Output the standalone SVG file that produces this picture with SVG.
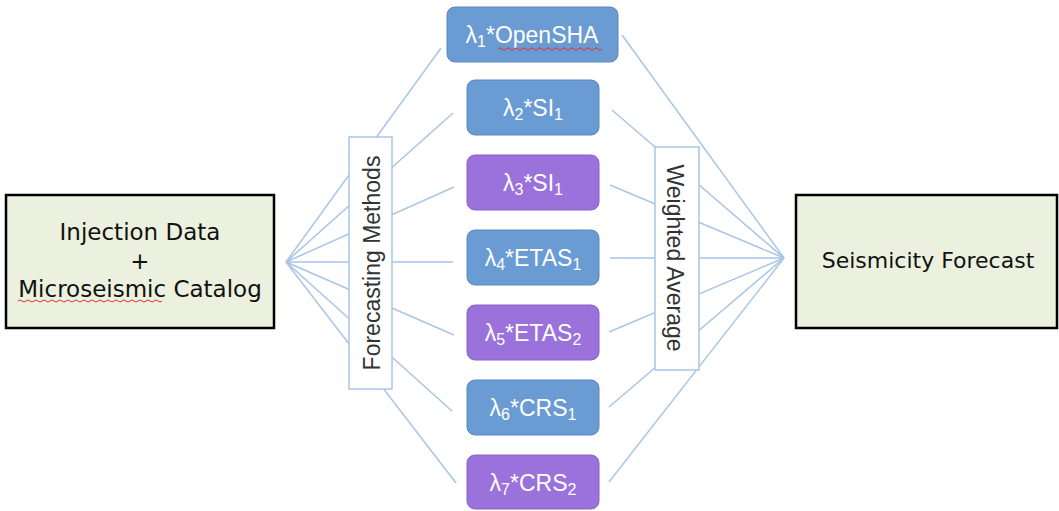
<svg xmlns="http://www.w3.org/2000/svg" width="1059" height="511" viewBox="0 0 1059 511">
<style>
.io{fill:#ebf1de;stroke:#000;stroke-width:2.5}
.iot{font-family:"DejaVu Sans",sans-serif;font-size:23px;fill:#111;text-anchor:middle}
.blue{fill:#6a9bd2;stroke:#5a88c0;stroke-width:1}
.purple{fill:#9b72db;stroke:#8663c9;stroke-width:1}
.mt{font-family:"Liberation Sans",Arial,sans-serif;font-size:23px;fill:#fff;text-anchor:middle}
.sub{font-size:16px}
.lab{fill:#fff;stroke:#a9c5e8;stroke-width:1.5}
.labt{font-family:"Liberation Sans",Arial,sans-serif;font-size:23px;fill:#333;text-anchor:middle}
.conn line{stroke:#a9c5e8;stroke-width:1.5}
.sq{fill:none;stroke:#e03030;stroke-width:1}
</style>
<g id="connectors" class="conn">
<line x1="286" y1="262" x2="441" y2="48"/>
<line x1="286" y1="262" x2="453" y2="113"/>
<line x1="286" y1="262" x2="454" y2="187"/>
<line x1="286" y1="262" x2="453" y2="262"/>
<line x1="286" y1="262" x2="454" y2="335"/>
<line x1="286" y1="262" x2="452" y2="411"/>
<line x1="286" y1="262" x2="456" y2="483"/>
<line x1="622" y1="35" x2="784" y2="258"/>
<line x1="612" y1="110" x2="784" y2="258"/>
<line x1="610" y1="185" x2="784" y2="258"/>
<line x1="610" y1="258" x2="784" y2="258"/>
<line x1="609" y1="332" x2="784" y2="258"/>
<line x1="609" y1="407" x2="784" y2="258"/>
<line x1="609" y1="482" x2="784" y2="258"/>
</g>
<g id="input">
<rect class="io" x="6" y="195" width="268" height="133"/>
<text class="iot" x="140" y="240">Injection Data</text>
<text class="iot" x="140" y="269">+</text>
<text class="iot" x="140" y="297">Microseismic Catalog</text>
<path class="sq" d="M18 301 q2 -2 4 0 t4 0 t4 0 t4 0 t4 0 t4 0 t4 0 t4 0 t4 0 t4 0 t4 0 t4 0 t4 0 t4 0 t4 0 t4 0 t4 0 t4 0 t4 0 t4 0 t4 0 t4 0 t4 0 t4 0 t4 0 t4 0 t4 0 t4 0 t4 0 t4 0 t4 0 t4 0 t4 0 t4 0 t4 0 t4 0"/>
</g>
<g id="output">
<rect class="io" x="796" y="195" width="261" height="133"/>
<text class="iot" x="928" y="268" style="font-size:22px">Seismicity Forecast</text>
</g>
<g id="forecasting-methods">
<rect class="lab" x="349" y="137" width="43" height="252"/>
<text class="labt" transform="translate(380,263) rotate(-90)">Forecasting Methods</text>
</g>
<g id="weighted-average">
<rect class="lab" x="655" y="147" width="44" height="223"/>
<text class="labt" transform="translate(667,258) rotate(90)">Weighted Average</text>
</g>
<g id="m1">
<rect class="blue" x="447" y="7" width="171" height="55" rx="8"/>
<text class="mt" x="532" y="43">λ<tspan class="sub" dy="4">1</tspan><tspan dy="-4">*OpenSHA</tspan></text>
<path class="sq" d="M498 49 q2 -2.5 4 0 t4 0 t4 0 t4 0 t4 0 t4 0 t4 0 t4 0 t4 0 t4 0 t4 0 t4 0 t4 0 t4 0 t4 0 t4 0 t4 0 t4 0 t4 0 t4 0 t4 0 t4 0 t4 0 t4 0 t4 0 t4 0"/>
</g>
<g id="m2">
<rect class="blue" x="467" y="80" width="132" height="55" rx="8"/>
<text class="mt" x="533" y="116">λ<tspan class="sub" dy="4">2</tspan><tspan dy="-4">*SI</tspan><tspan class="sub" dy="4">1</tspan></text>
</g>
<g id="m3">
<rect class="purple" x="467" y="155" width="132" height="55" rx="8"/>
<text class="mt" x="533" y="191">λ<tspan class="sub" dy="4">3</tspan><tspan dy="-4">*SI</tspan><tspan class="sub" dy="4">1</tspan></text>
</g>
<g id="m4">
<rect class="blue" x="467" y="230" width="132" height="55" rx="8"/>
<text class="mt" x="533" y="266">λ<tspan class="sub" dy="4">4</tspan><tspan dy="-4">*ETAS</tspan><tspan class="sub" dy="4">1</tspan></text>
</g>
<g id="m5">
<rect class="purple" x="467" y="305" width="132" height="55" rx="8"/>
<text class="mt" x="533" y="341">λ<tspan class="sub" dy="4">5</tspan><tspan dy="-4">*ETAS</tspan><tspan class="sub" dy="4">2</tspan></text>
</g>
<g id="m6">
<rect class="blue" x="467" y="380" width="132" height="55" rx="8"/>
<text class="mt" x="533" y="416">λ<tspan class="sub" dy="4">6</tspan><tspan dy="-4">*CRS</tspan><tspan class="sub" dy="4">1</tspan></text>
</g>
<g id="m7">
<rect class="purple" x="467" y="455" width="132" height="54" rx="8"/>
<text class="mt" x="533" y="491">λ<tspan class="sub" dy="4">7</tspan><tspan dy="-4">*CRS</tspan><tspan class="sub" dy="4">2</tspan></text>
</g>
</svg>
